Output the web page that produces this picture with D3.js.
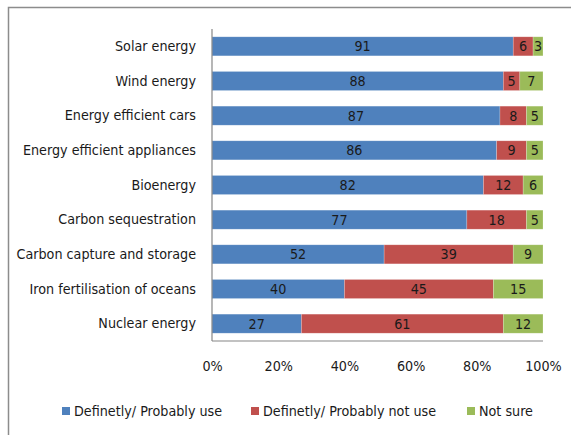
<!DOCTYPE html>
<html>
<head>
<meta charset="utf-8">
<script src="https://cdn.jsdelivr.net/npm/d3@7"></script>
<style>
  html, body { margin: 0; padding: 0; background: #fff; }
  svg { display: block; }
  text { font-family: "DejaVu Sans Condensed", "Liberation Sans Narrow", "Noto Sans", sans-serif; fill: #1a1a1a; }
</style>
</head>
<body>
<svg id="chart" width="571" height="435"></svg>
<script>
// Survey: willingness to use each energy technology (percent of respondents)
const categories = [
  "Solar energy",
  "Wind energy",
  "Energy efficient cars",
  "Energy efficient appliances",
  "Bioenergy",
  "Carbon sequestration",
  "Carbon capture and storage",
  "Iron fertilisation of oceans",
  "Nuclear energy"
];
const seriesNames = ["Definetly/ Probably use", "Definetly/ Probably not use", "Not sure"];
const useValues    = [91, 88, 87, 86, 82, 77, 52, 40, 27];
const notUseValues = [6, 5, 8, 9, 12, 18, 39, 45, 61];
const notSureValues = [3, 7, 5, 5, 6, 5, 9, 15, 12];
const tickValues = [0, 0.2, 0.4, 0.6, 0.8, 1.0];
const colors = ["#4F81BD", "#C0504D", "#9BBB59"];

const svg = d3.select("#chart");
const fontSize = 14.2;

// outer chart frame
svg.append("rect")
  .attr("x", 8.5).attr("y", 7.5)
  .attr("width", 600).attr("height", 460)
  .attr("fill", "none").attr("stroke", "#8c8c8c").attr("stroke-width", 1.5);

const margin = { left: 212, right: 28, top: 29, bottom: 94 };
const W = 571, H = 435;

const rows = categories.map((c, i) => {
  const vals = [useValues[i], notUseValues[i], notSureValues[i]];
  const total = d3.sum(vals);
  return { category: c, vals, total };
});

const x = d3.scaleLinear().domain([0, 1]).range([margin.left, W - margin.right]);
const y = d3.scaleBand().domain(categories).range([margin.top, H - margin.bottom])
  .paddingInner(0.45).paddingOuter(0.225);

// stacked segments (100% stacked)
const stack = d3.stack().keys([0, 1, 2]).value((d, k) => d.vals[k] / d.total);
const layers = stack(rows);

const g = svg.append("g");
layers.forEach((layer, k) => {
  const lg = g.append("g");
  lg.selectAll("rect").data(layer).join("rect")
    .attr("x", d => x(d[0]))
    .attr("y", d => y(d.data.category))
    .attr("width", d => x(d[1]) - x(d[0]))
    .attr("height", y.bandwidth())
    .attr("fill", colors[k])
    .attr("stroke", "rgba(255,255,255,0.35)")
    .attr("stroke-width", 0.6);
  lg.selectAll("text").data(layer).join("text")
    .attr("x", d => (x(d[0]) + x(d[1])) / 2)
    .attr("y", d => y(d.data.category) + y.bandwidth() / 2)
    .attr("dy", "0.36em")
    .attr("text-anchor", "middle")
    .attr("font-size", fontSize)
    .text(d => d.data.vals[k]);
});

// axes
const yAxis = d3.axisLeft(y).tickSize(0).tickPadding(16);
const yG = svg.append("g").attr("transform", `translate(${margin.left},0)`).call(yAxis);
yG.select(".domain").attr("stroke", "#868686").attr("stroke-width", 1.2)
  .attr("d", `M0,${margin.top}V${H - margin.bottom}`);
yG.selectAll("text").attr("font-size", fontSize).attr("fill", "#1a1a1a");

const xAxis = d3.axisBottom(x).tickValues(tickValues).tickFormat(d3.format(".0%")).tickSize(0).tickPadding(20);
const xG = svg.append("g").attr("transform", `translate(0,${H - margin.bottom})`).call(xAxis);
xG.select(".domain").attr("stroke", "#868686").attr("stroke-width", 1.2)
  .attr("d", `M${margin.left},0H${W - margin.right}`);
xG.selectAll("text").attr("font-size", fontSize).attr("fill", "#1a1a1a");
svg.selectAll(".tick text").attr("font-family", null);

// legend
const legendX = [62, 251, 467];
const legend = svg.append("g");
seriesNames.forEach((name, k) => {
  const lg = legend.append("g").attr("transform", `translate(${legendX[k]},407)`);
  lg.append("rect").attr("width", 8).attr("height", 8).attr("fill", colors[k]);
  lg.append("text").attr("x", 12).attr("y", 4).attr("dy", "0.36em")
    .attr("font-size", fontSize).text(name);
});
</script>
</body>
</html>
